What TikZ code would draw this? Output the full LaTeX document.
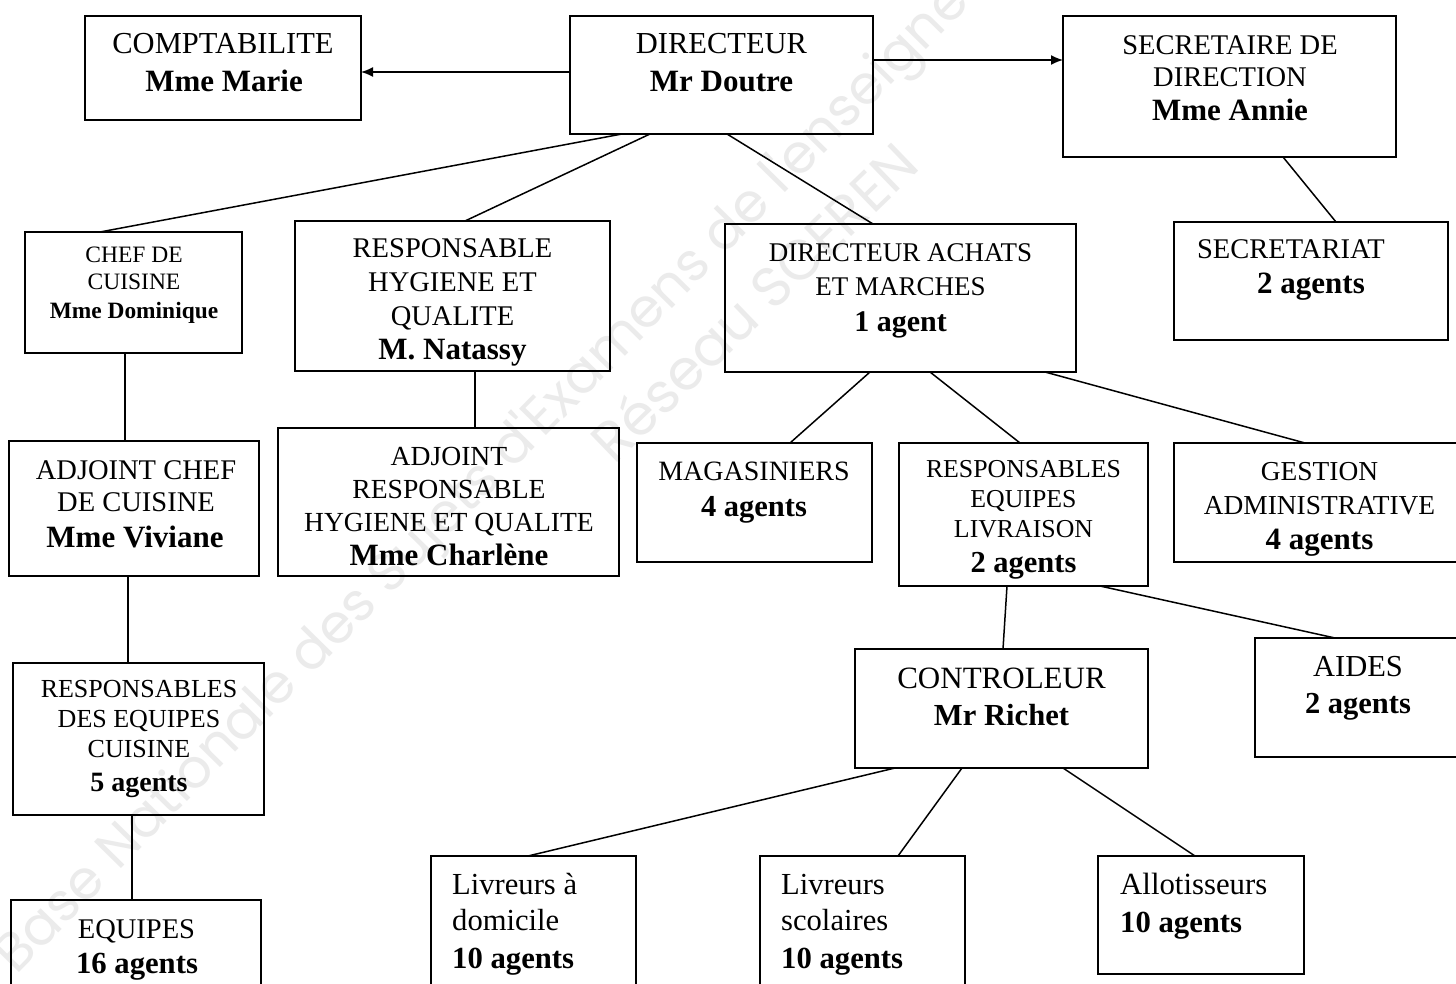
\documentclass[tikz,border=0pt]{standalone}
\usepackage{fontspec}
\setmainfont{Liberation Serif}
\newfontfamily\wmfont{Poppins}
\usetikzlibrary{arrows.meta}
\newcommand\fsz[1]{\fontsize{#1}{#1}\selectfont}
\newcommand\tline[4]{\node[tl,font=#3] (#1) at (#2) {#4};}
\newcommand\tlineL[4]{\node[tl,anchor=base west,font=#3] (#1) at (#2) {#4};}
\begin{document}
\begin{tikzpicture}[x=1pt,y=-1pt,
  box/.style={draw,line width=1.8pt,inner sep=0pt,outer sep=0pt},
  tl/.style={inner sep=0pt,anchor=base},
  conn/.style={line width=1.5pt},
  arr/.style={line width=1.5pt,-{Latex[length=12pt,width=10pt]}},
  wm/.style={inner sep=0pt,text=gray!16},
]
\useasboundingbox (0,0) rectangle (1456,984);
\clip (0,0) rectangle (1456,984);
\fill[white] (0,0) rectangle (1456,984);
% watermark
\node[wm,font={\wmfont\fsz{54}},rotate=45.5,anchor=base west] (wm1) at (16,976) {Base Nationale des Sujets d'Examens de l'enseignement professionnel};
\node[wm,font={\wmfont\fsz{56}},rotate=44,anchor=base west] (wm2) at (614,466) {Réseau SCEREN};

% boxes
\node[box,minimum width=276pt,minimum height=104pt] (compta) at (223,68) {};
\node[box,minimum width=303pt,minimum height=118pt] (dir) at (721.5,75) {};
\node[box,minimum width=333pt,minimum height=141pt] (secdir) at (1229.5,86.5) {};
\node[box,minimum width=217pt,minimum height=121pt] (chef) at (133.5,292.5) {};
\node[box,minimum width=315pt,minimum height=150pt] (resphyg) at (452.5,296) {};
\node[box,minimum width=351pt,minimum height=148pt] (dirach) at (900.5,298) {};
\node[box,minimum width=274pt,minimum height=118pt] (secr) at (1311,281) {};
\node[box,minimum width=250pt,minimum height=135pt] (adjchef) at (134,508.5) {};
\node[box,minimum width=341pt,minimum height=148pt] (adjresp) at (448.5,502) {};
\node[box,minimum width=235pt,minimum height=119pt] (magas) at (754.5,502.5) {};
\node[box,minimum width=249pt,minimum height=143pt] (respliv) at (1023.5,514.5) {};
\node[box,minimum width=288pt,minimum height=119pt] (gestion) at (1318,502.5) {};
\node[box,minimum width=251pt,minimum height=152pt] (respeqc) at (138.5,739) {};
\node[box,minimum width=293pt,minimum height=119pt] (contr) at (1001.5,708.5) {};
\node[box,minimum width=207pt,minimum height=119pt] (aides) at (1358.5,697.5) {};
\node[box,minimum width=250pt,minimum height=100pt] (equipes) at (136,950) {};
\node[box,minimum width=205pt,minimum height=144pt] (livdom) at (533.5,928) {};
\node[box,minimum width=205pt,minimum height=144pt] (livsco) at (862.5,928) {};
\node[box,minimum width=206pt,minimum height=118pt] (allot) at (1201,915) {};

% texts
\tline{compta1}{223,54}{\fsz{30.5}}{COMPTABILITE}
\tline{compta2}{224,92}{\bfseries\fsz{31}}{Mme Marie}
\tline{dir1}{721.5,54}{\fsz{30.5}}{DIRECTEUR}
\tline{dir2}{721.5,92}{\bfseries\fsz{31}}{Mr Doutre}
\tline{secdir1}{1230,55}{\fsz{28.5}}{SECRETAIRE DE}
\tline{secdir2}{1230,87}{\fsz{28.5}}{DIRECTION}
\tline{secdir3}{1230,121}{\bfseries\fsz{31}}{Mme Annie}
\tline{chef1}{134,263}{\fsz{23.5}}{CHEF DE}
\tline{chef2}{134,290}{\fsz{23.5}}{CUISINE}
\tline{chef3}{134,318}{\bfseries\fsz{23.4}}{Mme Dominique}
\tline{resphyg1}{452.5,258}{\fsz{28.5}}{RESPONSABLE}
\tline{resphyg2}{452.5,292}{\fsz{28.5}}{HYGIENE ET}
\tline{resphyg3}{452.5,325}{\fsz{28.5}}{QUALITE}
\tline{resphyg4}{452.5,359}{\bfseries\fsz{31}}{M. Natassy}
\tline{dirach1}{900.5,262}{\fsz{27}}{DIRECTEUR ACHATS}
\tline{dirach2}{900.5,295}{\fsz{27}}{ET MARCHES}
\tline{dirach3}{900.5,331}{\bfseries\fsz{30}}{1 agent}
\tline{secr1}{1291,259}{\fsz{28.5}}{SECRETARIAT}
\tline{secr2}{1311,294}{\bfseries\fsz{31}}{2 agents}
\tline{adjchef1}{136,479}{\fsz{28.5}}{ADJOINT CHEF}
\tline{adjchef2}{136,511}{\fsz{28.5}}{DE CUISINE}
\tline{adjchef3}{135,547}{\bfseries\fsz{31}}{Mme Viviane}
\tline{adjresp1}{449,465}{\fsz{27.6}}{ADJOINT}
\tline{adjresp2}{449,498}{\fsz{27.6}}{RESPONSABLE}
\tline{adjresp3}{449,531}{\fsz{27.6}}{HYGIENE ET QUALITE}
\tline{adjresp4}{449,565}{\bfseries\fsz{31}}{Mme Charlène}
\tline{magas1}{754,480}{\fsz{28}}{MAGASINIERS}
\tline{magas2}{754,516}{\bfseries\fsz{30.5}}{4 agents}
\tline{respliv1}{1023.5,477}{\fsz{25.8}}{RESPONSABLES}
\tline{respliv2}{1023.5,507}{\fsz{25.8}}{EQUIPES}
\tline{respliv3}{1023.5,537}{\fsz{25.8}}{LIVRAISON}
\tline{respliv4}{1023.5,572}{\bfseries\fsz{30.5}}{2 agents}
\tline{gestion1}{1319.5,480}{\fsz{27.4}}{GESTION}
\tline{gestion2}{1319.5,514}{\fsz{27.4}}{ADMINISTRATIVE}
\tline{gestion3}{1319.5,549}{\bfseries\fsz{31}}{4 agents}
\tline{respeqc1}{139,697}{\fsz{26}}{RESPONSABLES}
\tline{respeqc2}{139,727}{\fsz{26}}{DES EQUIPES}
\tline{respeqc3}{139,757}{\fsz{26}}{CUISINE}
\tline{respeqc4}{139,791}{\bfseries\fsz{28}}{5 agents}
\tline{contr1}{1001.5,688}{\fsz{31}}{CONTROLEUR}
\tline{contr2}{1001.5,725}{\bfseries\fsz{30.6}}{Mr Richet}
\tline{aides1}{1358,676}{\fsz{30.5}}{AIDES}
\tline{aides2}{1358,713}{\bfseries\fsz{30.5}}{2 agents}
\tline{equipes1}{136.5,938}{\fsz{28.5}}{EQUIPES}
\tline{equipes2}{137,973}{\bfseries\fsz{30.7}}{16 agents}
\tlineL{livdom1}{452,894}{\fsz{30.6}}{Livreurs à}
\tlineL{livdom2}{452,930}{\fsz{30.6}}{domicile}
\tlineL{livdom3}{452,968}{\bfseries\fsz{30.7}}{10 agents}
\tlineL{livsco1}{781,894}{\fsz{30.6}}{Livreurs}
\tlineL{livsco2}{781,930}{\fsz{30.6}}{scolaires}
\tlineL{livsco3}{781,968}{\bfseries\fsz{30.7}}{10 agents}
\tlineL{allot1}{1120,894}{\fsz{30.8}}{Allotisseurs}
\tlineL{allot2}{1120,932}{\bfseries\fsz{30.7}}{10 agents}

% connectors
\coordinate (dl) at ([yshift=3pt]dir.west);
\coordinate (dr) at ([yshift=15pt]dir.east);
\draw[arr] (dl) -- (dl -| compta.east);
\draw[arr] (dr) -- (dr -| secdir.west);
\draw[conn] ([xshift=52pt]dir.south west) -- ([xshift=75pt]chef.north west);
\draw[conn] ([xshift=80pt]dir.south west) -- ([xshift=170pt]resphyg.north west);
\draw[conn] ([xshift=157pt]dir.south west) -- ([xshift=148pt]dirach.north west);
\draw[conn] ([xshift=220pt]secdir.south west) -- ([xshift=162pt]secr.north west);
\draw[conn] ([xshift=100pt]chef.south west) -- ([xshift=116pt]adjchef.north west);
\draw[conn] ([xshift=180pt]resphyg.south west) -- ([xshift=197pt]adjresp.north west);
\draw[conn] ([xshift=119pt]adjchef.south west) -- ([xshift=115pt]respeqc.north west);
\draw[conn] ([xshift=119pt]respeqc.south west) -- ([xshift=121pt]equipes.north west);
\draw[conn] ([xshift=145pt]dirach.south west) -- ([xshift=153pt]magas.north west);
\draw[conn] ([xshift=205pt]dirach.south west) -- ([xshift=121pt]respliv.north west);
\draw[conn] ([xshift=320pt]dirach.south west) -- ([xshift=131pt]gestion.north west);
\draw[conn] ([xshift=108pt]respliv.south west) -- ([xshift=148pt]contr.north west);
\draw[conn] ([xshift=201pt]respliv.south west) -- ([xshift=80pt]aides.north west);
\draw[conn] ([xshift=40pt]contr.south west) -- ([xshift=97pt]livdom.north west);
\draw[conn] ([xshift=107pt]contr.south west) -- ([xshift=138pt]livsco.north west);
\draw[conn] ([xshift=208pt]contr.south west) -- ([xshift=97pt]allot.north west);
\end{tikzpicture}
\end{document}
